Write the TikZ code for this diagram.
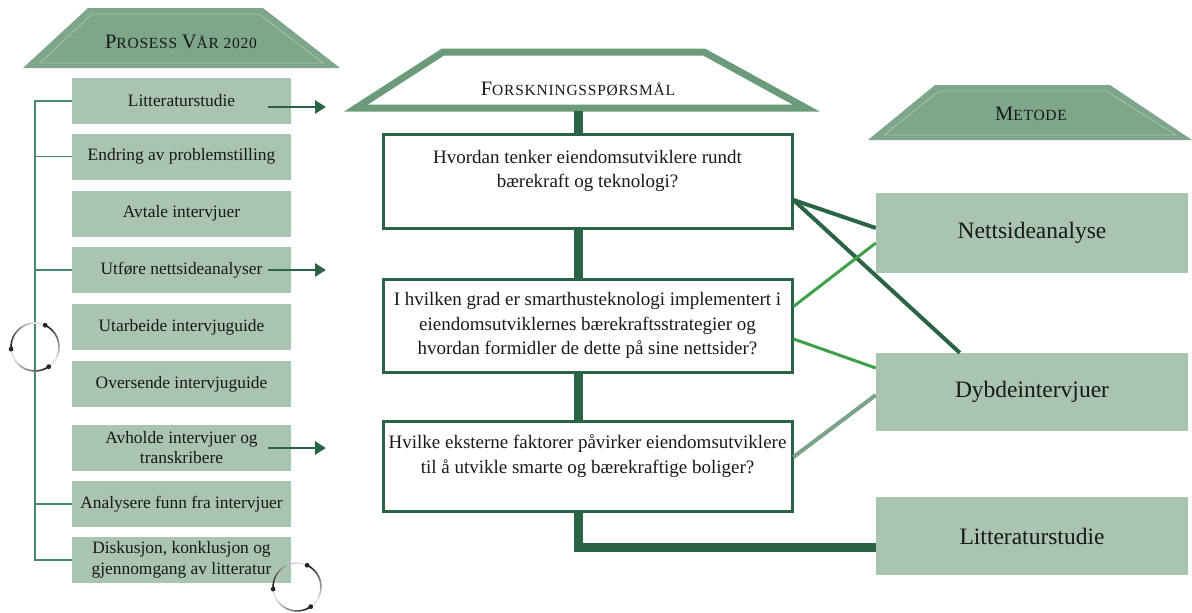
\documentclass[tikz,border=0pt]{standalone}
\usepackage{fontspec}
\setmainfont{Liberation Serif}
\usetikzlibrary{arrows.meta,calc}
\definecolor{hdr}{RGB}{125,166,139}
\definecolor{hdrline}{RGB}{165,196,175}
\definecolor{boxc}{RGB}{169,196,176}
\definecolor{dkg}{RGB}{42,99,70}
\definecolor{brg}{RGB}{62,160,72}
\definecolor{gyg}{RGB}{122,163,138}
\definecolor{midh}{RGB}{108,155,124}
\definecolor{brk}{RGB}{74,135,112}
\definecolor{txt}{RGB}{25,25,25}
\newcommand\hbig{\fontsize{20.5}{22}\selectfont}
\newcommand\hsmall{\fontsize{15.5}{18}\selectfont}
\begin{document}
\begin{tikzpicture}[x=1pt,y=-1pt,
  lbox/.style={fill=boxc, minimum width=219pt, minimum height=46pt, inner sep=0pt,
    align=center, text=txt, font=\fontsize{17.4}{20.5}\selectfont},
  qbox/.style={draw=dkg, line width=3pt, fill=white, minimum width=409pt, inner sep=0pt,
    align=center, text=txt, font=\fontsize{19}{24.5}\selectfont},
  rbox/.style={fill=boxc, minimum width=312pt, inner sep=0pt, text=txt,
    font=\fontsize{23.5}{26}\selectfont},
  htext/.style={text=txt, inner sep=0pt, font=\addfontfeature{LetterSpace=5}},
  bracket/.style={draw=brk, line width=1.5pt},
  arr/.style={draw=dkg, line width=2.8pt, -{Triangle[length=11pt,width=13pt]}},
  spine/.style={draw=dkg, line width=9pt, line join=miter},
  cyc/.pic={
    \draw[gray!25, line width=1.5pt] (0,0) circle[radius=24pt];
    \foreach \a in {65,185,305}{
      \foreach \k in {0,...,9}{
        \pgfmathtruncatemacro\c{10+\k*9}
        \draw[line width=1.5pt, black!\c] (\a-100+\k*10:24pt)
          arc[start angle=\a-100+\k*10, end angle=\a-89+\k*10, radius=24pt];
      }
      \fill[black!85] (\a:24pt) circle[radius=2.4pt];
    }
  }]
\useasboundingbox (0,0) rectangle (1192,613);

% ---------- left header ----------
\fill[hdr] (88,8) -- (263,8) -- (340,68) -- (23,68) -- cycle;
\draw[hdrline, line width=0.8pt] (92,14) -- (259,14) -- (323,63) -- (40,63) -- cycle;
\node[htext] (ph) at (181,42) {\hbig P\hsmall ROSESS \hbig V\hsmall ÅR 2020};

% ---------- left boxes ----------
\node[lbox] (p1) at (181.5,101) {Litteraturstudie};
\node[lbox] (p2) at (181.5,156.5) {Endring av problemstilling};
\node[lbox] (p3) at (181.5,213.5) {Avtale intervjuer};
\node[lbox] (p4) at (181.5,270) {Utføre nettsideanalyser};
\node[lbox] (p5) at (181.5,327) {Utarbeide intervjuguide};
\node[lbox] (p6) at (181.5,384) {Oversende intervjuguide};
\node[lbox] (p7) at (181.5,447.5) {Avholde intervjuer og\\transkribere};
\node[lbox] (p8) at (181.5,504) {Analysere funn fra intervjuer};
\node[lbox] (p9) at (181.5,560) {Diskusjon, konklusjon og\\gjennomgang av litteratur};

% bracket
\coordinate (bx) at (35,0);
\draw[bracket] (p1.west) -- (p1.west -| bx) -- (p9.west -| bx) -- (p9.west);
\draw[bracket] (p2.west) -- (p2.west -| bx);
\draw[bracket] (p4.west) -- (p4.west -| bx);
\draw[bracket] (p8.west) -- (p8.west -| bx);

% cycle symbols
\pic at (35,347) {cyc};
\pic at (297,587) {cyc};

% arrows out of left boxes
\coordinate (a1s) at (268,107); \coordinate (a1e) at (326,107);
\coordinate (a4s) at (268,270); \coordinate (a4e) at (326,270);
\coordinate (a7s) at (268,448); \coordinate (a7e) at (326,448);
\draw[arr] (a1s) -- (a1e);
\draw[arr] (a4s) -- (a4e);
\draw[arr] (a7s) -- (a7e);

% ---------- right header ----------
\fill[hdr] (935,85) -- (1110,85) -- (1192,140) -- (868,140) -- cycle;
\draw[hdrline, line width=0.8pt] (939,91) -- (1106,91) -- (1176,135) -- (884,135) -- cycle;
\node[htext] (mh) at (1031,114) {\hbig M\hsmall ETODE};

% ---------- right boxes ----------
\node[rbox, minimum height=80pt] (nett) at (1032,233) {Nettsideanalyse};
\node[rbox, minimum height=78pt] (dyb) at (1032,392) {Dybdeintervjuer};
\node[rbox, minimum height=78pt] (lit) at (1032,536) {Litteraturstudie};

% ---------- middle header ----------
\draw[midh, line width=7pt, line join=miter, fill=white]
  (443,52) -- (704,52) -- (806,108) -- (356,108) -- cycle;
\node[htext] (fh) at (578,89) {\hbig F\hsmall ORSKNINGSSPØRSMÅL};

% spine
\coordinate (sp) at (578,111);
\coordinate (cn) at (578,547);
\draw[spine] (sp) -- (cn) -- (cn -| lit.west);

% ---------- question boxes ----------
\node[qbox, minimum height=94pt] (q1) at (587.5,181)
  {Hvordan tenker eiendomsutviklere rundt\\bærekraft og teknologi?\\[-8pt]\strut};
\node[qbox, minimum height=93pt] (q2) at (587.5,325.5)
  {I hvilken grad er smarthusteknologi implementert i\\eiendomsutviklernes bærekraftsstrategier og\\hvordan formidler de dette på sine nettsider?};
\node[qbox, minimum height=90pt] (q3) at (587.5,466)
  {Hvilke eksterne faktorer påvirker eiendomsutviklere\\til å utvikle smarte og bærekraftige boliger?\\[-8pt]\strut};

% ---------- connectors ----------
\draw[dkg, line width=4pt] ([yshift=-19pt]q1.east) -- ([yshift=5pt]nett.west);
\draw[dkg, line width=4pt] ([yshift=-19pt]q1.east) -- ([xshift=84pt]dyb.north west);
\draw[brg, line width=3pt] ([yshift=19pt]q2.east) -- ([yshift=-10pt]nett.west);
\draw[brg, line width=3pt] ([yshift=-13.5pt]q2.east) -- ([yshift=24pt]dyb.west);
\draw[gyg, line width=4pt] ([yshift=9pt]q3.east) -- ([yshift=-3pt]dyb.west);
\end{tikzpicture}
\end{document}
